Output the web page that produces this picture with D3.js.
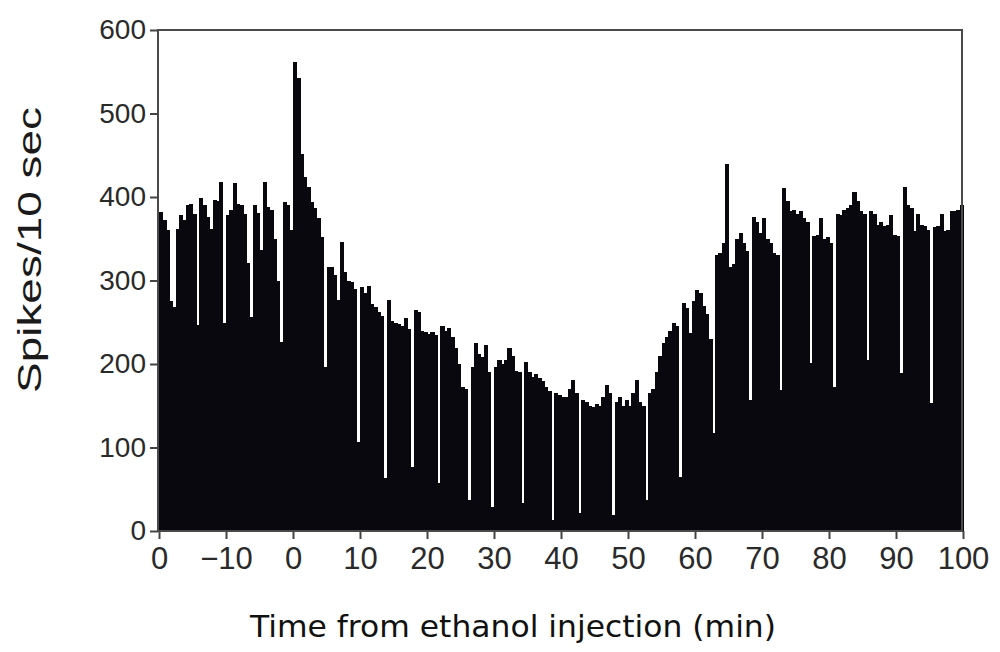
<!DOCTYPE html>
<html>
<head>
<meta charset="utf-8">
<script src="https://cdn.jsdelivr.net/npm/d3@7"></script>
<style>
  html, body { margin: 0; padding: 0; background: #fff; }
  #chart { width: 1000px; height: 652px; }
</style>
</head>
<body>
<div id="chart"></div>
<script>
// spike counts, one value per half-minute bin starting at the left edge
const binStart = -20;
const binWidth = 0.5;
const spikeCounts = [
  382, 372, 360, 275, 268, 362, 378, 372, 390, 392,
  380, 247, 399, 390, 376, 362, 397, 395, 418, 249,
  378, 385, 417, 392, 390, 380, 321, 256, 390, 381,
  336, 418, 388, 385, 350, 300, 226, 394, 390, 360,
  562, 542, 452, 424, 412, 394, 387, 375, 352, 196,
  316, 316, 307, 277, 346, 310, 300, 298, 290, 107,
  292, 285, 294, 272, 268, 262, 258, 63, 277, 252,
  249, 248, 245, 255, 242, 77, 265, 262, 240, 238,
  236, 238, 235, 57, 245, 240, 243, 232, 219, 200,
  172, 170, 37, 197, 225, 212, 208, 223, 190, 29,
  197, 205, 200, 205, 219, 210, 192, 190, 33, 202,
  190, 185, 188, 183, 180, 172, 168, 13, 165, 163,
  161, 160, 170, 181, 165, 21, 157, 155, 150, 148,
  152, 150, 160, 175, 165, 19, 155, 160, 150, 157,
  150, 165, 181, 155, 150, 37, 165, 170, 190, 209,
  225, 232, 240, 249, 245, 65, 273, 267, 237, 275,
  289, 285, 270, 260, 230, 117, 330, 333, 345, 440,
  316, 320, 350, 357, 345, 335, 157, 376, 370, 357,
  375, 350, 345, 333, 330, 169, 411, 395, 383, 385,
  380, 383, 375, 370, 201, 353, 355, 375, 350, 352,
  345, 173, 380, 378, 385, 387, 390, 406, 395, 383,
  380, 205, 383, 380, 367, 370, 365, 367, 378, 355,
  353, 189, 412, 390, 387, 359, 380, 367, 365, 360,
  153, 364, 365, 380, 359, 360, 383, 383, 385, 390
];

const xTickValues = [-20, -10, 0, 10, 20, 30, 40, 50, 60, 70, 80, 90, 100];
const xTickLabels = ["0", "\u221210", "0", "10", "20", "30", "40", "50", "60", "70", "80", "90", "100"];
const yTickValues = [0, 100, 200, 300, 400, 500, 600];

const width = 1000;
const height = 652;
const margin = { top: 30, right: 37, bottom: 121, left: 159 };

const svg = d3.select("#chart")
  .append("svg")
  .attr("width", width)
  .attr("height", height);

const x = d3.scaleLinear()
  .domain([-20, 100])
  .range([margin.left, width - margin.right]);

const y = d3.scaleLinear()
  .domain([0, 600])
  .range([height - margin.bottom, margin.top]);

// bars, overlapped a little so no seams show between neighbours
svg.append("g")
  .attr("shape-rendering", "crispEdges")
  .selectAll("rect")
  .data(spikeCounts)
  .enter()
  .append("rect")
  .attr("x", (d, i) => x(binStart + i * binWidth))
  .attr("width", (d, i) => x(binStart + (i + 1) * binWidth) - x(binStart + i * binWidth) + 0.8)
  .attr("y", (d) => y(d))
  .attr("height", (d) => y(0) - y(d))
  .attr("fill", "#08080e");

// frame
svg.append("rect")
  .attr("x", margin.left - 1)
  .attr("y", margin.top)
  .attr("width", width - margin.right - margin.left)
  .attr("height", y(0) - margin.top)
  .attr("fill", "none")
  .attr("stroke", "#4a4a4a")
  .attr("stroke-width", 2);

// y axis
const yAxis = svg.append("g")
  .attr("transform", "translate(" + (margin.left - 1) + ",0)")
  .call(d3.axisLeft(y).tickValues(yTickValues).tickSize(8).tickPadding(4));
yAxis.select(".domain").remove();
yAxis.selectAll("line").attr("stroke", "#444").attr("stroke-width", 2);
yAxis.selectAll("text")
  .attr("fill", "#2a2a2a")
  .style("font-family", "'Liberation Sans', Arial, sans-serif")
  .style("font-size", "28px");

// x axis
const xAxis = svg.append("g")
  .attr("transform", "translate(0," + y(0) + ")")
  .call(d3.axisBottom(x)
    .tickValues(xTickValues)
    .tickFormat((d, i) => xTickLabels[i])
    .tickSize(8)
    .tickPadding(8));
xAxis.select(".domain").remove();
xAxis.selectAll("line").attr("stroke", "#444").attr("stroke-width", 2);
xAxis.selectAll("text")
  .attr("fill", "#2a2a2a")
  .style("font-family", "'Liberation Sans', Arial, sans-serif")
  .style("font-size", "31px");

// axis titles
svg.append("text")
  .attr("transform", "translate(41,250) rotate(-90)")
  .attr("text-anchor", "middle")
  .attr("textLength", 286)
  .attr("lengthAdjust", "spacingAndGlyphs")
  .attr("fill", "#1a1a1a")
  .style("font-family", "'Liberation Sans', Arial, sans-serif")
  .style("font-size", "33px")
  .text("Spikes/10 sec");

svg.append("text")
  .attr("x", 513)
  .attr("y", 637)
  .attr("text-anchor", "middle")
  .attr("textLength", 526)
  .attr("lengthAdjust", "spacingAndGlyphs")
  .attr("fill", "#111")
  .style("font-family", "'DejaVu Sans', sans-serif")
  .style("font-size", "31px")
  .text("Time from ethanol injection (min)");
</script>
</body>
</html>
